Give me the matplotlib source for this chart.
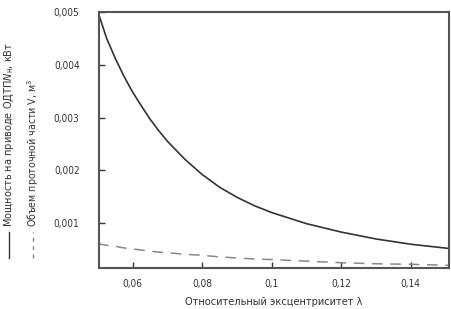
import matplotlib.pyplot as plt
from matplotlib.lines import Line2D

plt.rcParams['font.family'] = ['Liberation Sans Narrow', 'DejaVu Sans']
plt.rcParams['font.stretch'] = 'condensed'

# relative eccentricity lambda
lam = [0.05, 0.0525, 0.055, 0.0575, 0.06, 0.0625, 0.065, 0.0675, 0.07, 0.075,
       0.08, 0.085, 0.09, 0.095, 0.10, 0.11, 0.12, 0.13, 0.14, 0.151]
# drive power (solid)
power = [0.0050, 0.00450, 0.00412, 0.00378, 0.00348, 0.00322, 0.00297, 0.00275,
         0.00255, 0.00221, 0.00192, 0.00168, 0.00149, 0.00133, 0.00120, 0.00099,
         0.00083, 0.00070, 0.00060, 0.00052]
# flow part volume (dashed)
volume = [0.00061, 0.00058, 0.00056, 0.00053, 0.00051, 0.00049, 0.00047, 0.00045,
          0.00044, 0.00041, 0.00039, 0.00036, 0.00034, 0.00032, 0.00031, 0.00028,
          0.00025, 0.00023, 0.00022, 0.00020]

xticks = [0.06, 0.08, 0.1, 0.12, 0.14]
xlabels = ['0,06', '0,08', '0,1', '0,12', '0,14']
yticks = [0.001, 0.002, 0.003, 0.004, 0.005]
ylabels = ['0,001', '0,002', '0,003', '0,004', '0,005']

fig = plt.figure(figsize=(4.51, 3.09), dpi=100)
ax = fig.add_axes([0.2195, 0.1327, 0.7761, 0.8285])

ax.plot(lam, power, color='#333333', linewidth=1.2)
ax.plot(lam, volume, color='#888888', linewidth=1.1, linestyle=(0, (7, 5)))

ax.set_xlim(0.0503, 0.151)
ax.set_ylim(0.00015, 0.005)
ax.set_xticks(xticks)
ax.set_xticklabels(xlabels)
ax.set_yticks(yticks)
ax.set_yticklabels(ylabels)
ax.tick_params(direction='in', length=4, width=1, colors='#333333', labelsize=7.2, pad=8)
ax.tick_params(axis='y', pad=14)
for s in ax.spines.values():
    s.set_color('#555555')
    s.set_linewidth(1.5)

ax.set_xlabel('Относительный эксцентриситет λ', fontsize=7.8, color='#333333', labelpad=6)

# rotated legend on the left
fig.lines.append(Line2D([0.02, 0.02], [0.165, 0.25], transform=fig.transFigure,
                        color='#333333', linewidth=1))
fig.lines.append(Line2D([0.073, 0.073], [0.165, 0.25], transform=fig.transFigure,
                        color='#888888', linewidth=1, linestyle=(0, (3, 3))))
fig.text(0.02, 0.265, 'Мощность на приводе ОДТП$N_\\mathrm{н}$, кВт', rotation=90,
         ha='center', va='bottom', fontsize=7.8, color='#333333')
fig.text(0.073, 0.265, 'Объем проточной части V, м$^3$', rotation=90,
         ha='center', va='bottom', fontsize=7.6, color='#333333')

plt.savefig('out.png', dpi=100)
